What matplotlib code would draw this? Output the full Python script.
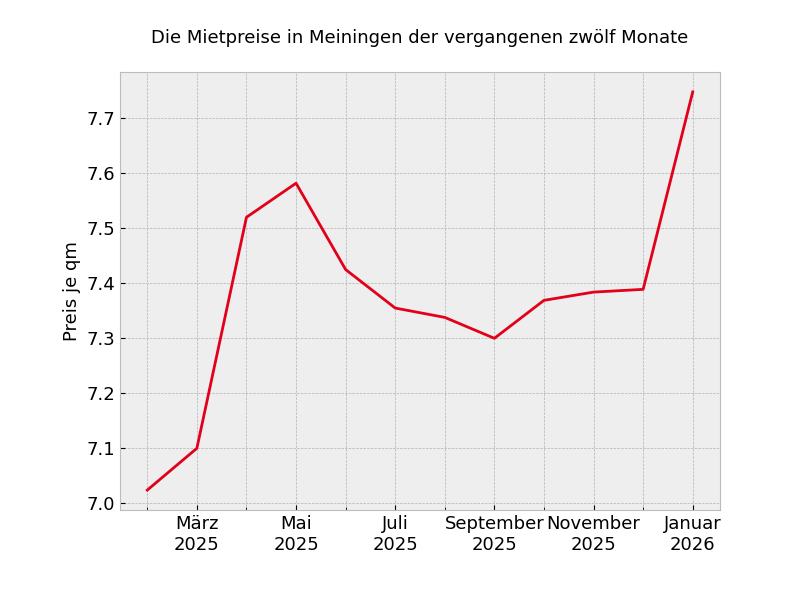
import matplotlib
matplotlib.use("Agg")
import matplotlib.pyplot as plt
from matplotlib.ticker import FixedLocator, FixedFormatter

plt.style.use("bmh")

months = ["Februar\n2025", "März\n2025", "April\n2025", "Mai\n2025", "Juni\n2025", "Juli\n2025",
          "August\n2025", "September\n2025", "Oktober\n2025", "November\n2025",
          "Dezember\n2025", "Januar\n2026"]
prices = [7.024, 7.100, 7.520, 7.582, 7.425, 7.355,
          7.338, 7.300, 7.369, 7.384, 7.389, 7.748]

x = list(range(len(months)))

fig, ax = plt.subplots(figsize=(8, 6), dpi=100)
fig.subplots_adjust(left=0.15, bottom=0.15, right=0.9, top=0.88)
ax.plot(x, prices, color="#e2001a", linewidth=2)

major = x[1::2]
ax.xaxis.set_major_locator(FixedLocator(major))
ax.xaxis.set_major_formatter(FixedFormatter([months[i] for i in major]))
ax.xaxis.set_minor_locator(FixedLocator(x[0::2]))
ax.grid(True, which="both", axis="x")
ax.set_ylabel("Preis je qm", fontsize=13)
ax.tick_params(labelsize=13)
ax.set_title("Die Mietpreise in Meiningen der vergangenen zwölf Monate", fontsize=13, pad=21)

fig.savefig("out.png", dpi=100)
